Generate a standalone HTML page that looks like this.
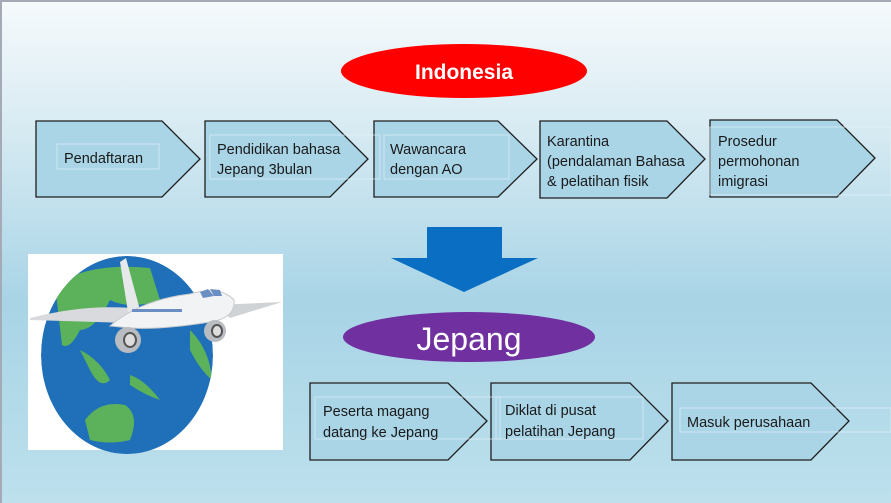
<!DOCTYPE html>
<html><head><meta charset="utf-8"><style>
html,body{margin:0;padding:0;width:891px;height:503px;overflow:hidden}
svg{display:block}
text{font-family:"Liberation Sans",sans-serif}
</style></head><body>
<svg width="891" height="503" viewBox="0 0 891 503" xmlns="http://www.w3.org/2000/svg">
<defs>
<linearGradient id="bg" x1="0" y1="0" x2="0" y2="1">
<stop offset="0" stop-color="#f6fafc"/>
<stop offset="0.22" stop-color="#dcedf4"/>
<stop offset="0.6" stop-color="#a8d4e6"/>
<stop offset="1" stop-color="#bde0ec"/>
</linearGradient>
<clipPath id="gc"><ellipse cx="127" cy="355" rx="86" ry="99"/></clipPath>
</defs>
<rect width="891" height="503" fill="url(#bg)"/>
<rect width="891" height="2" fill="#a4abb6"/>
<rect width="2" height="503" fill="#a4abb6"/>

<ellipse cx="464" cy="71" rx="123" ry="27" fill="#ff0000"/>
<text x="464" y="79" font-size="21" font-weight="bold" fill="#fff" text-anchor="middle">Indonesia</text>

<g stroke="#1e1e1e" stroke-width="1.3" fill="#a9d5e7">
<polygon points="36,121 162,121 200,159 162,197 36,197"/>
<polygon points="205,121 330,121 368,159 330,197 205,197"/>
<polygon points="374,121 498,121 537,159 498,197 374,197"/>
<polygon points="540,121 667,121 705,159 667,198 540,198"/>
<polygon points="710,120 837,120 875,158 837,197 710,197"/>
<polygon points="310,383 448,383 487,421 448,460 310,460"/>
<polygon points="491,383 630,383 668,421 630,460 491,460"/>
<polygon points="672,383 811,383 849,421 811,460 672,460"/>
</g>
<g fill="none" stroke="#e6f2f7" stroke-width="0.8" opacity="0.8">
<rect x="57" y="144" width="102" height="25"/>
<rect x="210" y="135" width="170" height="44"/>
<rect x="384" y="135" width="125" height="44"/>
<rect x="710" y="127" width="181" height="68"/>
<rect x="315" y="397" width="185" height="42"/>
<rect x="496" y="397" width="147" height="42"/>
<rect x="680" y="408" width="211" height="24"/>
</g>
<g font-size="14.5" fill="#1a1a1a">
<text x="64" y="163">Pendaftaran</text>
<text x="217" y="154">Pendidikan bahasa</text>
<text x="217" y="174">Jepang 3bulan</text>
<text x="390" y="154">Wawancara</text>
<text x="390" y="174">dengan AO</text>
<text x="547" y="146">Karantina</text>
<text x="547" y="166">(pendalaman Bahasa</text>
<text x="547" y="186">&amp; pelatihan fisik</text>
<text x="718" y="146">Prosedur</text>
<text x="718" y="166">permohonan</text>
<text x="718" y="186">imigrasi</text>
<text x="323" y="416">Peserta magang</text>
<text x="323" y="437">datang ke Jepang</text>
<text x="505" y="415">Diklat di pusat</text>
<text x="505" y="436">pelatihan Jepang</text>
<text x="687" y="427">Masuk perusahaan</text>
</g>

<polygon points="427,227 502,227 502,258 538,258 464,292 391,258 427,258" fill="#0a6fc2"/>

<ellipse cx="469" cy="337" rx="126" ry="25" fill="#7030a0"/>
<text x="469" y="350" font-size="32" fill="#fff" text-anchor="middle">Jepang</text>

<rect x="28" y="254" width="255" height="196" fill="#fff"/>
<g clip-path="url(#gc)">
<ellipse cx="127" cy="355" rx="86" ry="99" fill="#1f6fb9"/>
<path d="M55,285 Q90,262 150,268 L160,300 Q130,310 110,300 Q95,330 80,330 Q70,350 62,345 Z" fill="#5cb25a"/>
<path d="M80,350 Q100,360 110,380 Q100,390 90,370 Z" fill="#5cb25a"/>
<path d="M85,420 Q100,400 125,405 Q140,415 130,440 Q110,445 90,440 Z" fill="#5cb25a"/>
<path d="M130,375 Q145,380 160,400 Q145,395 130,385 Z" fill="#5cb25a"/>
<path d="M190,330 Q210,350 212,380 Q200,370 190,350 Z" fill="#5cb25a"/>
</g>
<path d="M30,318 Q100,300 160,312 L160,324 Q100,322 30,320 Z" fill="#d8dadd"/>
<path d="M215,305 L282,302 L230,318 Z" fill="#d0d3d6"/>
<path d="M120,262 L126,258 L140,310 L128,312 Z" fill="#e6e8ea"/>
<path d="M110,326 Q140,300 190,294 Q220,285 234,300 Q236,318 210,322 Q160,330 130,328 Z" fill="#f2f3f4" stroke="#c6c9cd" stroke-width="1"/>
<path d="M200,292 L208,289 L214,296 L203,298 Z" fill="#6c8fc3"/>
<path d="M210,289 L220,290 L222,296 L214,296 Z" fill="#6c8fc3"/>
<g fill="#6c8fc3"><rect x="132" y="309" width="50" height="3"/></g>
<ellipse cx="128" cy="340" rx="13" ry="13" fill="#b9bcc0"/>
<ellipse cx="130" cy="340" rx="7" ry="8" fill="#555"/>
<ellipse cx="130" cy="340" rx="5" ry="6" fill="#ddd"/>
<ellipse cx="215" cy="331" rx="11" ry="11" fill="#b9bcc0"/>
<ellipse cx="217" cy="331" rx="6" ry="7" fill="#555"/>
<ellipse cx="217" cy="331" rx="4" ry="5" fill="#ddd"/>
</svg>
</body></html>
